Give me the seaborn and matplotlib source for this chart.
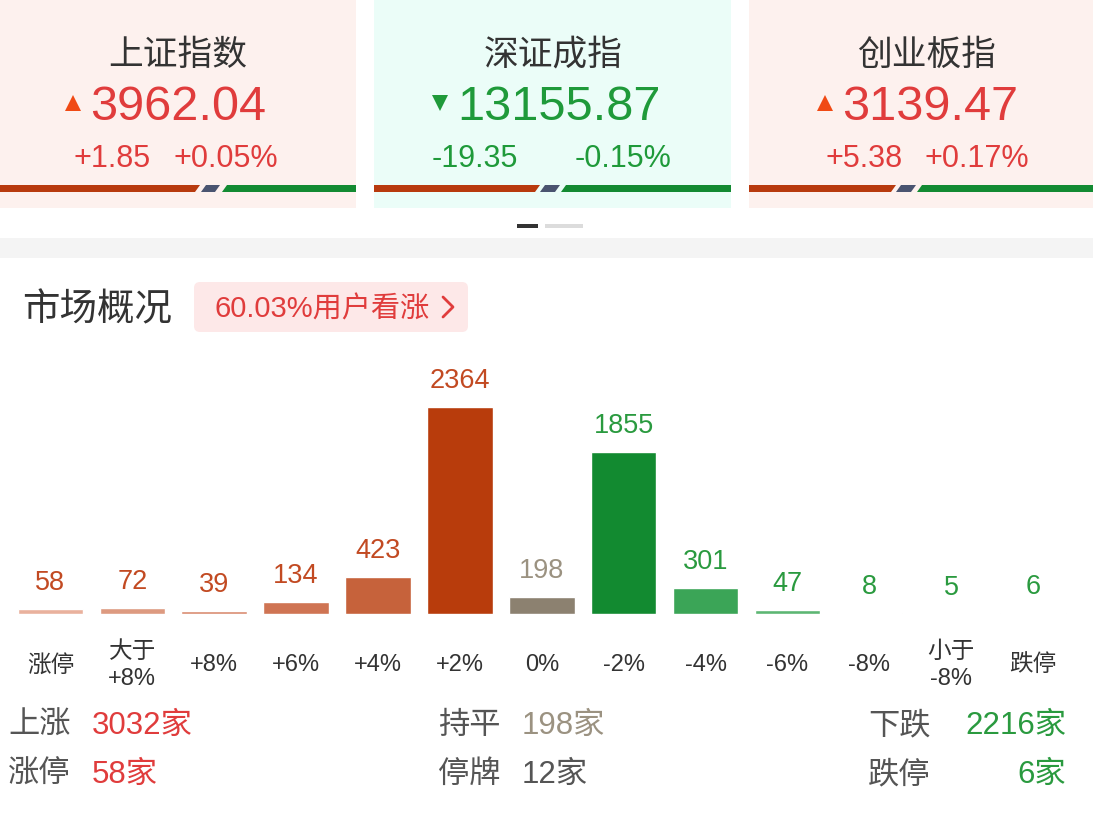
import seaborn as sns
import matplotlib.pyplot as plt
from matplotlib.patches import Rectangle, Polygon, FancyBboxPatch

# bar chart data
categories = ["涨停", "大于\n+8%", "+8%", "+6%", "+4%", "+2%", "0%",
              "-2%", "-4%", "-6%", "-8%", "小于\n-8%", "跌停"]
counts = [58, 72, 39, 134, 423, 2364, 198, 1855, 301, 47, 8, 5, 6]
bar_colors = ["#e9b19d", "#dd9a80", "#d98b6f", "#cf7453", "#c6623b", "#b83c0c", "#8c8170",
              "#128a30", "#3ba557", "#5db673", "#8ccb9b", "#b0dbb8", "#c5e5cb"]
label_colors = ["#c24a22"] * 6 + ["#9b9281"] + ["#2a9a3f"] * 6

# index cards
index_names = ["上证指数", "深证成指", "创业板指"]
index_values = ["3962.04", "13155.87", "3139.47"]
index_changes = ["+1.85", "-19.35", "+5.38"]
index_pcts = ["+0.05%", "-0.15%", "+0.17%"]
index_up = [True, False, True]

# summary rows
summary_left = [("上涨", "3032家", "#e03c3c"), ("涨停", "58家", "#e03c3c")]
summary_mid = [("持平", "198家", "#9b9281"), ("停牌", "12家", "#555555")]
summary_right = [("下跌", "2216家", "#2a9a3f"), ("跌停", "6家", "#2a9a3f")]
bullish_text = "60.03%用户看涨"

W, H = 1093, 823
sns.set_theme(style="white")
plt.rcParams["font.family"] = ["Liberation Sans", "Noto Sans CJK SC", "DejaVu Sans"]

fig = plt.figure(figsize=(W / 100, H / 100), dpi=100)
fig.patch.set_facecolor("white")

# pixel-space overlay for the page decorations
bg = fig.add_axes([0, 0, 1, 1])
bg.set_xlim(0, W)
bg.set_ylim(H, 0)
bg.axis("off")

RED = "#e03c3c"
GREEN = "#1f9a3a"
card_spans = [(0, 356), (374, 731), (749, 1093)]
card_bg = ["#fdf1ee", "#ebfdf8", "#fdf1ee"]
title_x = [178, 553, 927]
value_x = [90, 457, 842]
change_x = [(112, 226), (475, 623), (864, 977)]
bar_splits = [(200, 195, 206, 220, 227), (540, 535, 545, 560, 566), (896, 891, 901, 916, 922)]

for k, (x0, x1) in enumerate(card_spans):
    bg.add_patch(Rectangle((x0, 0), x1 - x0, 208, color=card_bg[k], lw=0))
    bg.text(title_x[k], 55, index_names[k], ha="center", va="center", fontsize=25,
            color="#333333", weight="medium")
    col = RED if index_up[k] else GREEN
    bg.text(value_x[k], 107, index_values[k], ha="left", va="center", fontsize=35, color=col)
    bg.plot(value_x[k] - 17, 103, marker="^" if index_up[k] else "v", markersize=12,
            color="#f04a14" if index_up[k] else GREEN, markeredgewidth=0)
    bg.text(change_x[k][0], 159, index_changes[k], ha="center", va="center", fontsize=22, color=col)
    bg.text(change_x[k][1], 159, index_pcts[k], ha="center", va="center", fontsize=22, color=col)
    rt, rb, st, se, gt = bar_splits[k]
    y0, y1 = 185, 192
    bg.add_patch(Polygon([(x0, y0), (rt, y0), (rb, y1), (x0, y1)], color="#b83a0e", lw=0))
    bg.add_patch(Polygon([(st, y0), (se, y0), (se - 5, y1), (st - 5, y1)], color="#4a5470", lw=0))
    bg.add_patch(Polygon([(gt, y0), (x1, y0), (x1, y1), (gt - 5, y1)], color="#138a32", lw=0))

# page dots and divider band
bg.add_patch(Rectangle((517, 224), 21, 4, color="#333333", lw=0))
bg.add_patch(Rectangle((545, 224), 38, 4, color="#dcdcdc", lw=0))
bg.add_patch(Rectangle((0, 238), W, 20, color="#f4f4f4", lw=0))

# section header with pill
bg.text(22, 310, "市场概况", ha="left", va="center", fontsize=27, color="#333333")
bg.add_patch(FancyBboxPatch((198, 286), 266, 42, boxstyle="round,pad=4,rounding_size=6",
                            color="#fde8e8", lw=0))
bg.text(214, 309, bullish_text, ha="left", va="center", fontsize=21, color=RED)
bg.plot([443, 453, 443], [297, 307, 317], color=RED, lw=2, solid_capstyle="round")

# summary rows
for r, y in enumerate([726, 775]):
    lab, val, c = summary_left[r]
    bg.text(8, y, lab, ha="left", va="center", fontsize=22.5, color="#555555")
    bg.text(92, y, val, ha="left", va="center", fontsize=22.5, color=c)
    lab, val, c = summary_mid[r]
    bg.text(438, y, lab, ha="left", va="center", fontsize=22.5, color="#555555")
    bg.text(522, y, val, ha="left", va="center", fontsize=22.5, color=c)
    lab, val, c = summary_right[r]
    bg.text(868, y, lab, ha="left", va="center", fontsize=22.5, color="#555555")
    bg.text(1066, y, val, ha="right", va="center", fontsize=22.5, color=c)

# bar chart axes: baseline at y=614 px, 2364 reaches y=407 px
base_px, top_px = 614, 350
x_left, x_right = 9.5, 1074
ax = fig.add_axes([x_left / W, (H - base_px) / H, (x_right - x_left) / W, (base_px - top_px) / H])
ax.set_facecolor("none")
sns.barplot(x=categories, y=counts, hue=categories, palette=bar_colors, legend=False,
            saturation=1, width=0.8, ax=ax)
ax.set_xlim(-0.5, len(categories) - 0.5)
ax.set_ylim(0, 2364 * (base_px - top_px) / (base_px - 407))
for i, (v, c) in enumerate(zip(counts, label_colors)):
    ax.annotate(str(v), (i, v), xytext=(0, 26), textcoords="offset pixels",
                ha="center", va="center", fontsize=19.5, color=c)
ax.set_yticks([])
ax.set_xlabel("")
ax.set_ylabel("")
ax.tick_params(axis="x", length=0, pad=37, labelsize=17, labelcolor="#333333")
for lbl in ax.get_xticklabels():
    lbl.set_verticalalignment("center")
    lbl.set_linespacing(1.3)
for s in ax.spines.values():
    s.set_visible(False)

fig.savefig("out.png", dpi=100)
